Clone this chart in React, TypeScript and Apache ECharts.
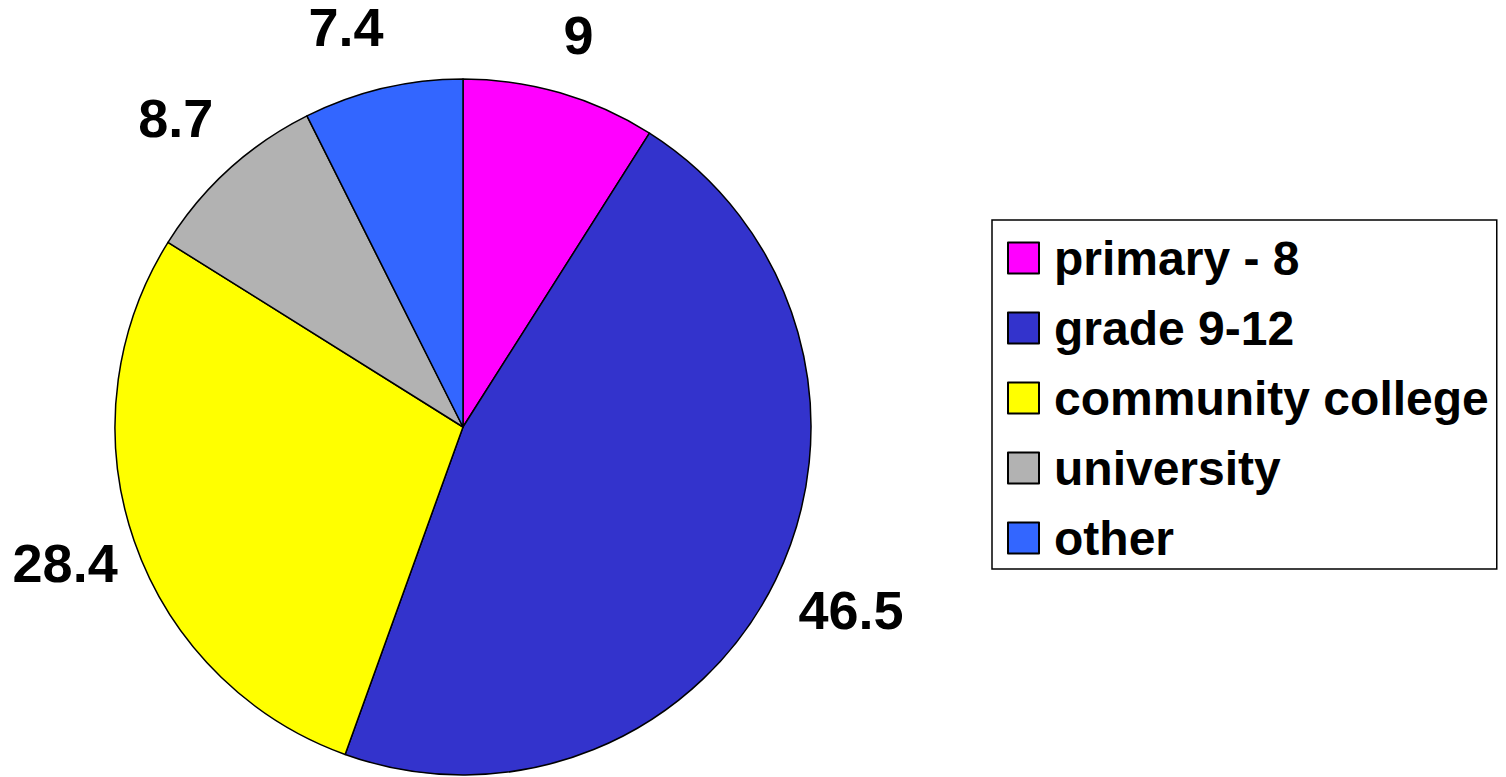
import React, { useEffect, useRef } from "react";
import * as echarts from "echarts";

const categories = ["primary - 8", "grade 9-12", "community college", "university", "other"];
const values = [9, 46.5, 28.4, 8.7, 7.4];
const colors = ["#FF00FF", "#3333CC", "#FFFF00", "#B2B2B2", "#3366FF"];

// small label nudges (styling), mimicking the original's label placement
const labelNudges = [
  [-2, 12],
  [10, -2],
  [0, -2],
  [-4, 2],
  [-20, 10],
];

export default function App() {
  const ref = useRef<HTMLDivElement>(null);
  useEffect(() => {
    if (!ref.current) return;
    const chart = echarts.init(ref.current, null, { renderer: "svg" });
    const data = categories.map((name, i) => ({
      name,
      value: values[i],
      itemStyle: { color: colors[i] },
    }));
    const font = "'Liberation Sans', Arial, sans-serif";
    chart.setOption({
      animation: false,
      backgroundColor: "#ffffff",
      legend: {
        orient: "vertical",
        left: 992,
        top: 220,
        padding: [14, 8, 7, 15],
        itemGap: 22,
        itemWidth: 31,
        itemHeight: 31,
        icon: "rect",
        borderColor: "#000",
        borderWidth: 1.5,
        selectedMode: false,
        data: categories,
        textStyle: {
          fontFamily: font,
          fontWeight: "bold",
          fontSize: 48,
          lineHeight: 48,
          color: "#000",
          padding: [0, 0, 0, 10],
        },
      },
      series: [
        {
          type: "pie",
          center: [463, 427],
          radius: [0, 348],
          startAngle: 90,
          clockwise: true,
          silent: true,
          label: { show: false },
          labelLine: { show: false },
          itemStyle: { borderColor: "#000", borderWidth: 1.5 },
          data,
        },
        {
          type: "pie",
          center: [463, 427],
          radius: [400, 436],
          startAngle: 90,
          clockwise: true,
          silent: true,
          legendHoverLink: false,
          itemStyle: { color: "rgba(0,0,0,0)", borderWidth: 0 },
          label: {
            show: true,
            position: "inside",
            formatter: "{c}",
            fontFamily: font,
            fontWeight: "bold",
            fontSize: 54,
            lineHeight: 50,
            color: "#000",
          },
          labelLine: { show: false },
          data: categories.map((name, i) => ({
            name,
            value: values[i],
            label: { offset: labelNudges[i] },
          })),
        },
      ],
    });
    return () => chart.dispose();
  }, []);
  return (
    <div
      ref={ref}
      style={{ position: "fixed", left: 0, top: 0, width: 1506, height: 777 }}
    />
  );
}
